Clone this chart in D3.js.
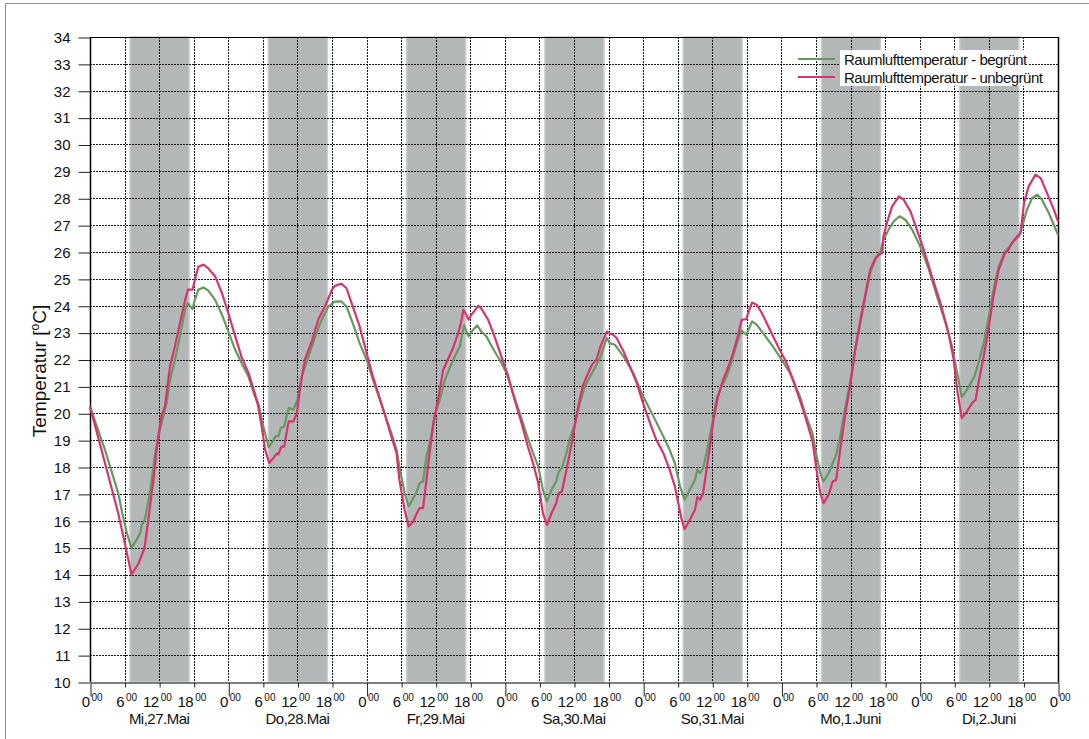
<!DOCTYPE html>
<html>
<head>
<meta charset="utf-8">
<script src="https://cdn.jsdelivr.net/npm/d3@7"></script>
<style>
  html, body { margin: 0; padding: 0; background: #fff; }
  svg { display: block; }
  text { font-family: "Liberation Sans", Arial, sans-serif; fill: #111; }
</style>
</head>
<body>
<svg id="chart" width="1089" height="739"></svg>
<script>
// ---------------- DATA ----------------
const dayLabels = ["Mi,27.Mai", "Do,28.Mai", "Fr,29.Mai", "Sa,30.Mai", "So,31.Mai", "Mo,1.Juni", "Di,2.Juni"];
const hourTickLabels = ["0", "6", "12", "18"];
const yTicks = [10, 11, 12, 13, 14, 15, 16, 17, 18, 19, 20, 21, 22, 23, 24, 25, 26, 27, 28, 29, 30, 31, 32, 33, 34];
// daytime (grey) band: start / end hour within each day
const bandStartHour = 6.95;
const bandEndHour = 17.2;

const seriesNames = ["Raumlufttemperatur - begrünt", "Raumlufttemperatur - unbegrünt"];

// hours since Mi 27.Mai 0:00
const hoursGreen = [0, 2.6, 4.9, 5.6, 6.4, 7.2, 8.1, 8.7, 9.0, 9.5, 10.4, 11.3, 12.0, 12.7, 13.3, 13.9, 14.75, 15.6, 16.5, 16.95, 17.8, 18.2, 18.8, 19.7, 20.5, 21.7, 22.9, 24.0, 25.2, 26.3, 27.5, 28.6, 29.2, 30.1, 31.0, 31.7, 32.2, 32.7, 33.1, 33.7, 34.1, 34.5, 35.3, 36.0, 36.75, 37.9, 39.1, 40.2, 41.4, 42.5, 43.6, 44.5, 45.6, 46.8, 48.0, 49.1, 50.0, 51.1, 52.3, 53.2, 53.7, 54.6, 55.3, 56.1, 56.6, 57.2, 57.8, 58.4, 59.2, 59.8, 60.7, 61.6, 62.4, 63.3, 64.2, 64.5, 64.9, 65.7, 66.5, 67.2, 67.9, 68.8, 69.9, 71.1, 72.3, 73.4, 74.6, 75.7, 76.9, 77.8, 78.6, 79.3, 80.1, 80.9, 81.35, 81.9, 82.7, 83.3, 84.2, 85.0, 85.9, 86.8, 87.9, 88.5, 89.1, 89.7, 90.2, 91.1, 92.6, 94.3, 96.0, 97.8, 99.5, 100.6, 101.5, 102.4, 103.2, 104.1, 105.0, 105.4, 105.9, 106.4, 107.0, 107.9, 108.7, 109.6, 110.5, 111.3, 112.2, 113.1, 113.9, 114.3, 114.9, 115.7, 116.8, 118.3, 119.7, 121.5, 123.2, 124.3, 125.4, 126.0, 126.75, 127.3, 128.2, 128.9, 129.5, 130.2, 131.1, 132.0, 132.8, 133.7, 134.6, 135.4, 136.3, 137.2, 137.7, 138.6, 139.5, 140.5, 141.5, 142.7, 144.1, 145.6, 147.0, 148.5, 149.6, 150.5, 151.3, 152.2, 153.0, 153.5, 154.2, 155.1, 156.0, 156.8, 157.7, 158.8, 159.4, 160.3, 161.2, 161.8, 162.6, 163.5, 164.4, 165.2, 166.4, 167.4, 168.0];
const tempGreen = [20.25, 18.64, 17.03, 16.28, 15.54, 14.98, 15.3, 15.54, 15.85, 16.03, 17.03, 18.5, 19.26, 19.88, 20.37, 21.25, 21.99, 22.86, 23.85, 24.1, 23.88, 24.22, 24.6, 24.68, 24.57, 24.22, 23.67, 23.05, 22.36, 21.87, 21.37, 20.63, 20.37, 19.5, 18.74, 18.95, 19.14, 19.14, 19.45, 19.5, 19.88, 20.2, 20.13, 20.5, 21.37, 22.1, 22.86, 23.48, 23.98, 24.15, 24.16, 23.98, 23.35, 22.61, 21.99, 21.25, 20.69, 20.0, 19.26, 18.64, 18.02, 17.03, 16.53, 16.84, 17.03, 17.4, 17.46, 18.39, 19.14, 19.88, 20.5, 21.25, 21.68, 22.11, 22.49, 22.86, 23.27, 22.86, 23.11, 23.27, 23.04, 22.86, 22.42, 21.99, 21.49, 20.75, 20.0, 19.26, 18.52, 18.02, 17.15, 16.72, 17.15, 17.46, 17.83, 17.96, 18.52, 19.07, 19.63, 20.37, 21.0, 21.37, 21.8, 22.05, 22.42, 22.8, 22.61, 22.55, 22.11, 21.49, 20.63, 19.88, 19.14, 18.64, 18.14, 17.28, 16.78, 17.15, 17.52, 17.9, 17.77, 17.96, 18.52, 19.51, 20.5, 21.0, 21.37, 21.87, 22.55, 23.08, 22.92, 23.11, 23.42, 23.3, 22.98, 22.55, 22.11, 21.49, 20.63, 19.88, 19.25, 18.52, 17.77, 17.46, 17.77, 18.14, 18.45, 19.14, 20.25, 21.25, 22.36, 23.35, 24.35, 25.22, 25.72, 26.02, 26.46, 26.83, 27.14, 27.33, 27.2, 26.83, 26.2, 25.34, 24.35, 23.35, 22.49, 21.5, 20.6, 20.87, 21.18, 21.37, 21.87, 22.61, 23.6, 24.6, 25.46, 26.02, 26.15, 26.4, 26.58, 26.95, 27.57, 28.0, 28.13, 27.95, 27.45, 26.95, 26.64];

const hoursPink = [0, 4.9, 5.8, 7.2, 8.4, 9.3, 9.5, 10.1, 11.0, 11.75, 12.4, 13.0, 13.9, 14.75, 15.6, 16.5, 17.0, 17.8, 18.2, 18.8, 19.7, 20.5, 21.7, 22.9, 24.0, 25.2, 26.3, 27.5, 28.6, 29.2, 29.8, 30.4, 31.1, 31.8, 32.4, 32.7, 33.2, 33.7, 34.1, 34.5, 35.3, 35.9, 36.5, 37.3, 38.5, 39.6, 40.8, 42.0, 42.5, 43.6, 44.5, 45.6, 46.8, 48.0, 49.1, 50.0, 51.1, 52.3, 53.2, 53.7, 54.6, 55.3, 56.1, 56.6, 57.2, 57.8, 58.4, 59.0, 59.7, 60.4, 61.3, 62.1, 63.0, 63.9, 64.5, 64.8, 65.3, 65.7, 66.2, 66.8, 67.4, 67.9, 69.1, 70.2, 71.4, 72.6, 73.7, 74.9, 76.0, 76.9, 77.8, 78.6, 79.3, 80.1, 80.9, 81.35, 81.9, 82.7, 83.5, 84.5, 85.5, 86.2, 87.1, 87.9, 88.6, 89.1, 89.7, 90.2, 90.8, 91.4, 92.6, 93.7, 94.9, 96.0, 97.2, 98.3, 99.5, 100.6, 101.5, 102.1, 102.7, 103.2, 104.1, 105.0, 105.4, 105.9, 106.4, 107.0, 107.6, 108.2, 109.0, 109.9, 110.8, 111.6, 112.5, 113.1, 113.9, 114.3, 114.9, 115.7, 116.6, 118.0, 119.4, 120.9, 122.0, 123.2, 124.3, 125.4, 126.0, 126.75, 127.3, 128.2, 128.9, 129.5, 130.2, 131.1, 132.0, 132.8, 133.7, 134.6, 135.4, 136.3, 136.9, 137.5, 137.7, 138.3, 139.2, 140.4, 141.2, 142.4, 143.5, 144.7, 146.1, 147.6, 149.0, 149.9, 150.5, 151.3, 152.2, 153.1, 153.7, 154.2, 155.1, 156.0, 156.8, 157.7, 158.8, 159.4, 160.0, 160.9, 161.5, 162.1, 162.9, 164.1, 165.0, 166.1, 167.3, 168.0];
const tempPink = [20.25, 16.28, 15.4, 14.0, 14.4, 14.9, 15.05, 16.0, 17.5, 19.0, 19.9, 20.25, 21.75, 22.5, 23.35, 24.2, 24.6, 24.6, 24.97, 25.45, 25.53, 25.4, 25.1, 24.47, 23.73, 22.86, 22.1, 21.5, 20.75, 20.25, 19.5, 18.64, 18.15, 18.33, 18.5, 18.47, 18.76, 18.76, 19.26, 19.7, 19.7, 20.0, 21.0, 22.0, 22.67, 23.48, 23.98, 24.6, 24.74, 24.82, 24.66, 23.98, 23.23, 22.24, 21.37, 20.75, 20.0, 19.14, 18.52, 17.52, 16.41, 15.79, 15.97, 16.22, 16.47, 16.47, 17.52, 18.64, 19.76, 20.5, 21.62, 21.99, 22.42, 22.98, 23.48, 23.85, 23.67, 23.48, 23.67, 23.83, 24.0, 23.9, 23.48, 22.86, 22.11, 21.37, 20.5, 19.63, 18.76, 18.14, 17.4, 16.28, 15.85, 16.28, 16.65, 17.03, 17.09, 17.9, 18.76, 20.0, 21.0, 21.37, 21.8, 21.99, 22.49, 22.73, 23.04, 22.98, 22.92, 22.8, 22.3, 21.74, 21.12, 20.37, 19.63, 19.0, 18.52, 17.9, 17.28, 16.65, 16.03, 15.69, 16.03, 16.41, 16.88, 16.78, 17.03, 17.9, 18.76, 19.76, 20.63, 21.25, 21.74, 22.24, 22.92, 23.48, 23.5, 23.79, 24.12, 24.04, 23.73, 23.11, 22.49, 21.87, 21.25, 20.5, 19.76, 18.95, 18.02, 17.03, 16.65, 16.97, 17.46, 17.52, 18.64, 20.0, 21.12, 22.36, 23.48, 24.47, 25.34, 25.77, 25.9, 25.96, 26.58, 27.08, 27.7, 28.07, 27.95, 27.51, 26.83, 26.09, 25.1, 24.1, 22.98, 21.99, 20.87, 19.82, 20.07, 20.38, 20.5, 21.12, 22.11, 23.23, 24.35, 25.34, 25.96, 26.08, 26.33, 26.58, 26.7, 27.82, 28.44, 28.88, 28.75, 28.19, 27.57, 27.14];

// ---------------- LAYOUT ----------------
const W = 1089, H = 739;
const plot = { left: 90, right: 1058, top: 37, bottom: 682 };
const colGreen = "#66995f";
const colPink = "#d9336f";

const svg = d3.select("#chart");
const x = d3.scaleLinear().domain([0, 168]).range([plot.left, plot.right]);
const y = d3.scaleLinear().domain([10, 34]).range([plot.bottom, plot.top]);

svg.append("rect").attr("width", W).attr("height", H).attr("fill", "#fff");
// outer frame (left and top edges)
svg.append("path").attr("d", `M5.5,${H}V3.5H${W}`)
  .attr("fill", "none").attr("stroke", "#8c8c8c").attr("stroke-width", 1);

// daytime bands
const days = d3.range(7);
svg.append("g").selectAll("rect").data(days).join("rect")
  .attr("x", d => x(d * 24 + bandStartHour))
  .attr("width", d => x(d * 24 + bandEndHour) - x(d * 24 + bandStartHour))
  .attr("y", plot.top)
  .attr("height", plot.bottom - plot.top)
  .attr("fill", "#b4b7b8")
  .attr("stroke", "#cbcdce").attr("stroke-width", 1.5);

// grid
const grid = svg.append("g").attr("stroke", "#1a1a1a").attr("stroke-width", 1).attr("stroke-dasharray", "2,1");
const vGrid = d3.range(6, 168, 6);
grid.selectAll("line.v").data(vGrid).join("line").attr("class", "v")
  .attr("x1", d => Math.round(x(d)) + 0.5).attr("x2", d => Math.round(x(d)) + 0.5)
  .attr("y1", plot.top).attr("y2", plot.bottom);
grid.selectAll("line.h").data(yTicks.filter(t => t > 10 && t < 34)).join("line").attr("class", "h")
  .attr("y1", d => Math.round(y(d)) + 0.5).attr("y2", d => Math.round(y(d)) + 0.5)
  .attr("x1", plot.left).attr("x2", plot.right);

// y axis
const yAxis = d3.axisLeft(y).tickValues(yTicks).tickSize(12).tickPadding(8).tickFormat(d3.format("d"));
const gy = svg.append("g").attr("transform", `translate(${plot.left + 0.5},0.5)`).call(yAxis);
gy.select(".domain").remove();
gy.selectAll(".tick line").attr("stroke", "#222");
gy.selectAll(".tick text").style("font-size", "15px").attr("fill", "#111")
  .style("font-family", '"Liberation Sans", Arial, sans-serif');

// frame lines of plot
svg.append("line").attr("x1", plot.left + 0.5).attr("x2", plot.left + 0.5).attr("y1", plot.top).attr("y2", plot.bottom)
  .attr("stroke", "#000").attr("stroke-width", 1.5);
svg.append("line").attr("x1", plot.left).attr("x2", plot.right).attr("y1", plot.top + 0.5).attr("y2", plot.top + 0.5)
  .attr("stroke", "#000").attr("stroke-width", 1);
svg.append("line").attr("x1", plot.right + 0.5).attr("x2", plot.right + 0.5).attr("y1", plot.top).attr("y2", plot.bottom)
  .attr("stroke", "#000").attr("stroke-width", 1.5);

// x axis
const xTickVals = d3.range(0, 169, 6);
const gx = svg.append("g").attr("transform", `translate(0.5,${plot.bottom + 0.5})`)
  .call(d3.axisBottom(x).tickValues(xTickVals).tickSize(0).tickFormat(""));
gx.select(".domain").attr("stroke", "#555").attr("stroke-width", 1.5);
gx.selectAll(".tick line").attr("y2", d => (d % 24 === 0 ? 14 : 5)).attr("stroke", "#222");

const xl = svg.append("g");
xTickVals.forEach(v => {
  xl.append("text").attr("x", x(v) - 0.5).attr("y", 707).attr("text-anchor", "end")
    .style("font-size", "15px").style("letter-spacing", "-0.5px")
    .text(hourTickLabels[(v / 6) % 4]);
  xl.append("text").attr("x", x(v) + 1.5).attr("y", 701).style("font-size", "10px").text("00");
});

svg.append("g").selectAll("text").data(days).join("text")
  .attr("x", d => x(d * 24 + 12)).attr("y", 724)
  .attr("text-anchor", "middle").style("font-size", "15px").style("letter-spacing", "-0.5px")
  .text(d => dayLabels[d]);

// y axis title
const yt = svg.append("text").attr("transform", "translate(46,371) rotate(-90)")
  .attr("text-anchor", "middle").style("font-size", "19px");
yt.append("tspan").text("Temperatur  [");
yt.append("tspan").text("o").style("font-size", "12px").attr("dy", -7);
yt.append("tspan").text("C]").attr("dy", 7);

// lines
const line = d3.line().x(d => x(d[0])).y(d => y(d[1]));
const greenPts = hoursGreen.map((h, i) => [h, tempGreen[i]]);
const pinkPts = hoursPink.map((h, i) => [h, tempPink[i]]);
const lines = svg.append("g").attr("fill", "none").attr("stroke-width", 2.2).attr("stroke-linejoin", "round");
lines.append("path").datum(greenPts).attr("d", line).attr("stroke", colGreen);
lines.append("path").datum(pinkPts).attr("d", line).attr("stroke", colPink);

// legend
const legend = svg.append("g");
const legRows = [{ name: seriesNames[0], color: colGreen, cy: 59 }, { name: seriesNames[1], color: colPink, cy: 77 }];
legRows.forEach(r => {
  const bg = legend.append("rect").attr("fill", "#fff");
  const t = legend.append("text").attr("x", 844).attr("y", r.cy + 5.5)
    .style("font-size", "15px").style("letter-spacing", "-0.5px").text(r.name);
  const len = t.node().getComputedTextLength();
  bg.attr("x", 840).attr("y", r.cy - 9).attr("width", len + 6).attr("height", 18);
  legend.append("line").attr("x1", 798).attr("x2", 835).attr("y1", r.cy).attr("y2", r.cy)
    .attr("stroke", r.color).attr("stroke-width", 2.2);
});
</script>
</body>
</html>
